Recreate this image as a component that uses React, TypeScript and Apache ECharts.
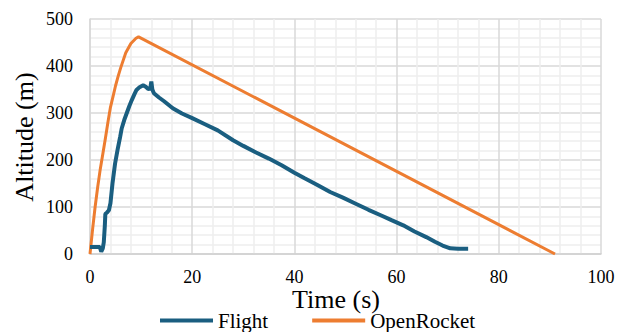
import React, { useEffect, useRef } from "react";
import * as echarts from "echarts";

const flightTime = [0, 1, 1.9, 2.2, 2.5, 2.7, 2.9, 3.0, 3.3, 3.7, 4.0, 4.4, 4.9, 5.4, 5.9, 6.2, 6.7, 7.2, 7.7, 8.2, 8.7, 9.1, 9.7, 10.4, 10.9, 11.4, 11.8, 12.0, 12.2, 12.5, 13.5, 14.5, 16.2, 18, 20, 22.5, 25, 28, 30, 32.5, 35, 37.5, 40, 42, 44.5, 47, 49.5, 52, 54.5, 57, 59, 61.3, 63.5, 65.8, 67.5, 69, 70.5, 72, 74];
const flightAlt = [15, 15, 15, 5, 12, 25, 60, 85, 88, 93, 108, 150, 192, 222, 249, 267, 285, 300, 315, 328, 340, 349, 355, 359, 356, 351, 352, 367, 350, 342, 333, 325, 310, 299, 289, 276, 263, 242, 230, 216, 203, 189, 173, 161, 147, 132, 120, 107, 94, 82, 72, 61, 48, 36, 26, 18, 12, 11, 11];

const orTime = [0, 0.5, 1, 1.5, 2, 2.5, 3, 3.5, 4, 4.5, 5, 5.5, 6, 7, 8, 9, 9.5, 91];
const orAlt = [0, 52, 100, 142, 180, 212, 245, 280, 312, 335, 358, 378, 396, 428, 448, 459, 462, 0];

const xTicks = { min: 0, max: 100, interval: 20 };
const yTicks = { min: 0, max: 500, interval: 100 };

const seriesNames = ["Flight", "OpenRocket"];

export default function App() {
  const ref = useRef<HTMLDivElement>(null);
  useEffect(() => {
    if (!ref.current) return;
    const chart = echarts.init(ref.current, undefined, { renderer: "svg" });
    const font = "Liberation Serif";
    const zip = (a: number[], b: number[]) => a.map((v, i) => [v, b[i]]);
    chart.setOption({
      animation: false,
      backgroundColor: "#ffffff",
      textStyle: { fontFamily: font, color: "#000" },
      grid: { left: 90, right: 24, top: 19, bottom: 78, containLabel: false },
      xAxis: {
        type: "value",
        ...xTicks,
        axisLine: { show: true, lineStyle: { color: "#d0d0d0", width: 1.5 } },
        axisTick: { show: false },
        axisLabel: { color: "#000", fontFamily: font, fontSize: 18, fontWeight: "normal", margin: 14 },
        splitLine: { show: true, lineStyle: { color: "#d9d9d9", width: 1.5 } },
        minorTick: { show: false, splitNumber: 5 },
        minorSplitLine: { show: true, lineStyle: { color: "#eeeeee", width: 1.5 } },
      },
      yAxis: {
        type: "value",
        ...yTicks,
        axisLine: { show: true, lineStyle: { color: "#d9d9d9", width: 1.5 } },
        axisTick: { show: false },
        axisLabel: { color: "#000", fontFamily: font, fontSize: 18, fontWeight: "normal", margin: 17 },
        splitLine: { show: true, lineStyle: { color: "#d9d9d9", width: 1.5 } },
        minorTick: { show: false, splitNumber: 5 },
        minorSplitLine: { show: true, lineStyle: { color: "#eeeeee", width: 1.5 } },
      },
      legend: {
        data: seriesNames.map((n) => ({ name: n, icon: "rect" })),
        left: 160,
        top: 310,
        padding: 0,
        itemWidth: 53,
        itemHeight: 4,
        itemGap: 44,
        textStyle: { color: "#000", fontFamily: font, fontSize: 21 },
      },
      graphic: [
        {
          type: "text",
          x: 336,
          y: 299,
          style: { text: "Time (s)", fontFamily: font, fontSize: 26, fill: "#000", align: "center", verticalAlign: "middle" },
        },
        {
          type: "text",
          x: 24.5,
          y: 137,
          rotation: Math.PI / 2,
          style: { text: "Altitude (m)", fontFamily: font, fontSize: 26, fill: "#000", align: "center", verticalAlign: "middle" },
        },
      ],
      series: [
        {
          name: seriesNames[0],
          type: "line",
          data: zip(flightTime, flightAlt),
          symbol: "none",
          lineStyle: { color: "#1a5e80", width: 4 },
          itemStyle: { color: "#1a5e80" },
          z: 3,
        },
        {
          name: seriesNames[1],
          type: "line",
          data: zip(orTime, orAlt),
          symbol: "none",
          smooth: false,
          lineStyle: { color: "#ed7d31", width: 3 },
          itemStyle: { color: "#ed7d31" },
          z: 2,
        },
      ],
    });
    return () => chart.dispose();
  }, []);
  return <div ref={ref} style={{ position: "fixed", left: 0, top: 0, width: 625, height: 332 }} />;
}
